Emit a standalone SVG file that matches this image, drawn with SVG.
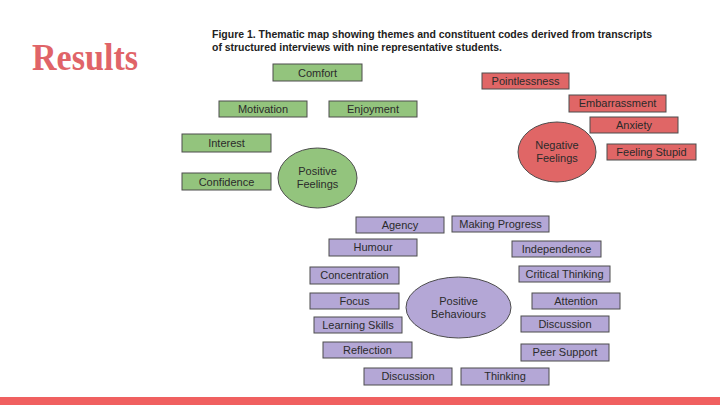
<svg xmlns="http://www.w3.org/2000/svg" width="720" height="405" viewBox="0 0 720 405">
<style>
text{font-family:"Liberation Sans",Arial,sans-serif;}
.bx{stroke:#4d4d4d;stroke-width:1;}
.g{fill:#93c47d;}
.r{fill:#e06666;}
.p{fill:#b4a7d6;}
.t{font-size:11px;fill:#2b2b2b;text-anchor:middle;}
.cap{font-size:11px;font-weight:bold;fill:#222;}
</style>
<rect width="720" height="405" fill="#fff"/>
<text x="32" y="70" font-weight="bold" font-size="37" fill="#e06468" textLength="106" lengthAdjust="spacingAndGlyphs" style="font-family:'Liberation Serif',serif">Results</text>
<text class="cap" x="212" y="38" textLength="440" lengthAdjust="spacingAndGlyphs">Figure 1. Thematic map showing themes and constituent codes derived from transcripts</text>
<text class="cap" x="212" y="51" textLength="290" lengthAdjust="spacingAndGlyphs">of structured interviews with nine representative students.</text>

<g id="comfort"><rect class="bx g" x="273" y="64" width="89" height="17"/><text class="t" x="317.5" y="76.5">Comfort</text></g>
<g id="motivation"><rect class="bx g" x="219" y="101" width="88" height="16"/><text class="t" x="263" y="112.5">Motivation</text></g>
<g id="enjoyment"><rect class="bx g" x="329" y="101" width="88" height="16"/><text class="t" x="373" y="112.5">Enjoyment</text></g>
<g id="interest"><rect class="bx g" x="182" y="134" width="89" height="18"/><text class="t" x="226.5" y="146.5">Interest</text></g>
<g id="confidence"><rect class="bx g" x="182" y="173" width="89" height="17"/><text class="t" x="226.5" y="185.5">Confidence</text></g>
<g id="positive-feelings"><ellipse class="bx g" cx="317.5" cy="178" rx="39.5" ry="30"/><text class="t" x="317.5" y="175">Positive</text><text class="t" x="317.5" y="188">Feelings</text></g>

<g id="pointlessness"><rect class="bx r" x="482" y="73" width="87" height="16"/><text class="t" x="525.5" y="84.5">Pointlessness</text></g>
<g id="embarrassment"><rect class="bx r" x="569" y="95" width="97" height="17"/><text class="t" x="617.5" y="107">Embarrassment</text></g>
<g id="anxiety"><rect class="bx r" x="590" y="117" width="88" height="16"/><text class="t" x="634" y="128.5">Anxiety</text></g>
<g id="feeling-stupid"><rect class="bx r" x="607" y="144" width="89" height="16"/><text class="t" x="651.5" y="155.5">Feeling Stupid</text></g>
<g id="negative-feelings"><ellipse class="bx r" cx="557" cy="152" rx="39" ry="30"/><text class="t" x="557" y="149">Negative</text><text class="t" x="557" y="162">Feelings</text></g>

<g id="agency"><rect class="bx p" x="356" y="217" width="88" height="16"/><text class="t" x="400" y="228.5">Agency</text></g>
<g id="making-progress"><rect class="bx p" x="452" y="216" width="97" height="16"/><text class="t" x="500.5" y="227.5">Making Progress</text></g>
<g id="humour"><rect class="bx p" x="329" y="239" width="88" height="17"/><text class="t" x="373" y="251">Humour</text></g>
<g id="independence"><rect class="bx p" x="512" y="241" width="89" height="16"/><text class="t" x="556.5" y="252.5">Independence</text></g>
<g id="concentration"><rect class="bx p" x="310" y="267" width="89" height="17"/><text class="t" x="354.5" y="279">Concentration</text></g>
<g id="critical-thinking"><rect class="bx p" x="519" y="266" width="91" height="16"/><text class="t" x="564.5" y="277.5">Critical Thinking</text></g>
<g id="focus"><rect class="bx p" x="310" y="293" width="89" height="16"/><text class="t" x="354.5" y="304.5">Focus</text></g>
<g id="attention"><rect class="bx p" x="532" y="293" width="88" height="16"/><text class="t" x="576" y="304.5">Attention</text></g>
<g id="learning-skills"><rect class="bx p" x="314" y="317" width="88" height="16"/><text class="t" x="358" y="328.5">Learning Skills</text></g>
<g id="discussion-right"><rect class="bx p" x="521" y="316" width="88" height="16"/><text class="t" x="565" y="327.5">Discussion</text></g>
<g id="reflection"><rect class="bx p" x="323" y="342" width="89" height="16"/><text class="t" x="367.5" y="353.5">Reflection</text></g>
<g id="peer-support"><rect class="bx p" x="521" y="344" width="88" height="17"/><text class="t" x="565" y="356">Peer Support</text></g>
<g id="discussion-bottom"><rect class="bx p" x="364" y="368" width="88" height="17"/><text class="t" x="408" y="380">Discussion</text></g>
<g id="thinking"><rect class="bx p" x="461" y="368" width="88" height="17"/><text class="t" x="505" y="380">Thinking</text></g>
<g id="positive-behaviours"><ellipse class="bx p" cx="458.5" cy="307.5" rx="52.5" ry="30.5"/><text class="t" x="458.5" y="305">Positive</text><text class="t" x="458.5" y="318">Behaviours</text></g>

<g id="connectors"></g>
<rect x="0" y="397" width="720" height="8" fill="#f06060"/>
</svg>
